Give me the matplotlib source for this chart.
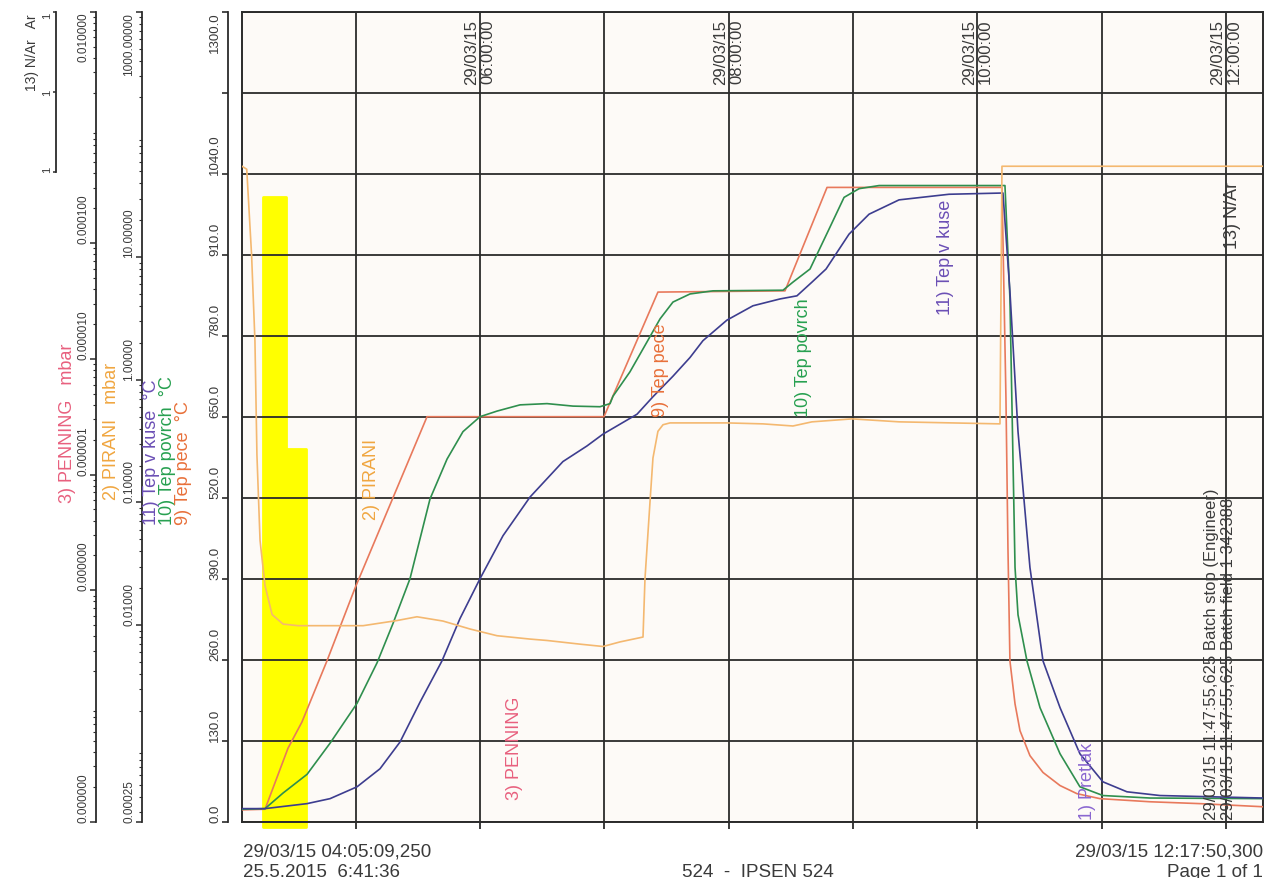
import numpy as np
import matplotlib
matplotlib.use("Agg")
import matplotlib.pyplot as plt
from matplotlib import transforms
from matplotlib.ticker import FixedLocator, NullFormatter, LogLocator

plt.rcParams['font.family'] = ['Liberation Sans', 'DejaVu Sans']

# ---------------- data ----------------
T_START = 4 + 5 / 60 + 9.25 / 3600      # 29/03/15 04:05:09,250 (hours)
T_END = 12 + 17 / 60 + 50.3 / 3600      # 29/03/15 12:17:50,300

hour_ticks = [5, 6, 7, 8, 9, 10, 11, 12]
hour_label_pos = [6, 8, 10, 12]
hour_labels = ['29/03/15\n06:00:00', '29/03/15\n08:00:00',
               '29/03/15\n10:00:00', '29/03/15\n12:00:00']

temp_ticks = [0, 130, 260, 390, 520, 650, 780, 910, 1040, 1170, 1300]
temp_labels = ['0.0', '130.0', '260.0', '390.0', '520.0', '650.0',
               '780.0', '910.0', '1040.0', '', '1300.0']
pirani_ticks = [0.00025, 0.01, 0.1, 1, 10, 1000]
pirani_labels = ['0.00025', '0.01000', '0.10000', '1.00000', '10.00000', '1000.00000']
penning_ticks = [1e-9, 1e-7, 1e-6, 1e-5, 1e-4, 1e-2]
penning_labels = ['0.000000', '0.000000', '0.000001', '0.000010', '0.000100', '0.010000']
nar_ticks = [0.95, 1.0, 1.05]
nar_labels = ['1', '1', '1']

# 9) Tep pece [degC]
pece_t = [4.086, 4.271, 4.456, 4.568, 4.769, 4.995, 5.574, 6.997, 7.431, 8.453,
          8.791, 10.198, 10.230, 10.246, 10.262, 10.303, 10.343, 10.423, 10.528,
          10.665, 10.801, 10.986, 11.388, 11.790, 12.297]
pece_v = [19, 20, 118, 160, 258, 375, 650, 650, 850, 852,
          1018, 1018, 680, 440, 258, 189, 146, 106, 79,
          58, 45, 37, 32, 29, 24]

# 10) Tep povrch [degC]
povrch_t = [4.086, 4.271, 4.416, 4.609, 4.794, 5.011, 5.172, 5.300, 5.437, 5.598,
            5.735, 5.863, 6.000, 6.137, 6.322, 6.539, 6.748, 6.965, 7.046, 7.070,
            7.206, 7.343, 7.448, 7.552, 7.689, 7.874, 8.437, 8.517, 8.654, 8.807,
            8.928, 9.049, 9.210, 10.222, 10.262, 10.303, 10.327, 10.399, 10.504,
            10.665, 10.825, 11.010, 11.388, 12.297]
povrch_v = [20, 21, 46, 76, 126, 190, 255, 318, 390, 518,
            582, 626, 650, 659, 669, 671, 667, 666, 671, 683,
            722, 770, 807, 834, 847, 852, 853, 866, 887, 951,
            1002, 1016, 1021, 1021, 840, 408, 332, 258, 183,
            109, 56, 42, 38, 37]

# 11) Tep v kuse [degC]
kuse_t = [4.086, 4.271, 4.609, 4.794, 5.011, 5.196, 5.357, 5.518, 5.694, 5.839,
          6.000, 6.185, 6.402, 6.667, 6.860, 6.989, 7.126, 7.263, 7.391, 7.552,
          7.689, 7.793, 7.986, 8.195, 8.413, 8.549, 8.670, 8.783, 8.968, 9.129,
          9.370, 9.772, 10.206, 10.262, 10.327, 10.423, 10.528, 10.665, 10.825,
          11.010, 11.203, 11.469, 12.297]
kuse_v = [21, 21, 29, 37, 56, 85, 128, 192, 258, 326,
          390, 459, 521, 578, 603, 622, 638, 654, 682, 715,
          745, 772, 805, 828, 839, 844, 866, 887, 943, 975,
          998, 1007, 1009, 851, 626, 408, 258, 183, 109,
          64, 48, 42, 38]

# 2) PIRANI [mbar]
pirani_t = [4.086, 4.124, 4.163, 4.190, 4.206, 4.231, 4.271, 4.328, 4.416, 4.537,
            4.794, 5.060, 5.332, 5.493, 5.702, 5.920, 6.137, 6.402, 6.539, 6.804,
            6.989, 7.126, 7.311, 7.327, 7.367, 7.391, 7.431, 7.472, 7.528, 7.986,
            8.276, 8.517, 8.670, 8.992, 9.370, 10.182, 10.198, 12.297]
pirani_p = [55, 52, 10.4, 2.07, 0.244, 0.049, 0.021, 0.0122, 0.0102, 0.0099,
            0.0099, 0.0099, 0.0109, 0.0117, 0.0108, 0.0093, 0.0082, 0.0077, 0.0075, 0.0070,
            0.0067, 0.0073, 0.0080, 0.024, 0.10, 0.23, 0.38, 0.43, 0.445, 0.445,
            0.437, 0.42, 0.454, 0.48, 0.454, 0.437, 55, 55]

# yellow highlighted intervals (start hour, duration hours, level)
alarm_start = [4.255, 4.448]
alarm_width = [0.185, 0.153]
alarm_level = [1003, 598]

# ---------------- style ----------------
GRID = '#2b2b2b'
TXT = '#3a3a3a'
BG = '#fdfaf7'
C_PECE, C_PECE_T = '#e8795c', '#e8703a'
C_POV, C_POV_T = '#2f8f4e', '#27a050'
C_KUSE, C_KUSE_T = '#3d3d8f', '#6b4fb5'
C_PIR, C_PIR_T = '#f4b870', '#f0a640'
C_PEN_T = '#e8607e'
C_PRE_T = '#8a66d0'

W_PX, H_PX = 1280, 879
PL, PR, PT, PB = 242, 1263, 12.7, 822.7


def fx(px):
    return px / W_PX


def fy(py):
    return 1 - py / H_PX


rect = [fx(PL), fy(PB), (PR - PL) / W_PX, (PB - PT) / H_PX]

fig = plt.figure(figsize=(12.8, 8.79), dpi=100)
fig.patch.set_facecolor('white')

# main plot area
ax = fig.add_axes(rect)
ax.set_xlim(T_START, T_END)
ax.set_ylim(0, 1300)
ax.set_facecolor(BG)
ax.set_xticks(hour_ticks)
ax.set_yticks(temp_ticks)
ax.grid(True, color=GRID, lw=1.3)
ax.set_axisbelow(True)
ax.tick_params(axis='x', direction='out', length=5, width=1.3, color=GRID,
               labelbottom=False)
ax.tick_params(axis='y', left=False, labelleft=False)
for s in ax.spines.values():
    s.set_color(GRID)
    s.set_linewidth(1.4)

# yellow bars
bar_base = -8
ax.bar(alarm_start, np.array(alarm_level) - bar_base, width=alarm_width,
       bottom=bar_base, align='edge', color='#ffff00', edgecolor='#ffff00',
       lw=2, joinstyle='round', zorder=0.3, clip_on=False)

ax.plot(pece_t, pece_v, color=C_PECE, lw=1.2, zorder=3)
ax.plot(povrch_t, povrch_v, color=C_POV, lw=1.2, zorder=3)
ax.plot(kuse_t, kuse_v, color=C_KUSE, lw=1.2, zorder=3)

# time labels at top
bt = transforms.blended_transform_factory(ax.transData, ax.transAxes)
for h, lab in zip(hour_label_pos, hour_labels):
    ax.text(h, 1 - 7 / (PB - PT), lab, transform=bt, rotation=90, ha='center',
            va='top', multialignment='right', fontsize=12, color=TXT,
            linespacing=1.1)

# in-plot series labels (x in hours, y bottom in degC)
SER = 13
ax.text(5.131, 486, '2) PIRANI', rotation=90, ha='center', va='bottom',
        color=C_PIR_T, fontsize=SER, zorder=4)
ax.text(6.281, 37, '3) PENNING', rotation=90, ha='center', va='bottom',
        color=C_PEN_T, fontsize=SER, zorder=4)
ax.text(7.448, 651, '9) Tep pece', rotation=90, ha='center', va='bottom',
        color=C_PECE_T, fontsize=SER, zorder=4)
ax.text(8.598, 651, '10) Tep povrch', rotation=90, ha='center', va='bottom',
        color=C_POV_T, fontsize=SER, zorder=4)
ax.text(9.740, 815, '11) Tep v kuse', rotation=90, ha='center', va='bottom',
        color=C_KUSE_T, fontsize=SER, zorder=4)
ax.text(12.056, 920, '13) N/Ar', rotation=90, ha='center', va='bottom',
        color=TXT, fontsize=SER, zorder=4)
ax.text(10.882, 5, '1) Pretlak', rotation=90, ha='center', va='bottom',
        color=C_PRE_T, fontsize=SER, zorder=4)
ax.text(11.887, 4, '29/03/15 11:47:55,625 Batch stop (Engineer)', rotation=90,
        ha='center', va='bottom', color=TXT, fontsize=12, zorder=4)
ax.text(12.022, 4, '29/03/15 11:47:55,625 Batch field 1 342388', rotation=90,
        ha='center', va='bottom', color=TXT, fontsize=12, zorder=4)


def side_axis(rect_, offset_px, ylim, scale='linear'):
    a = fig.add_axes(rect_)
    a.patch.set_visible(False)
    for k in ('top', 'right', 'bottom'):
        a.spines[k].set_visible(False)
    a.spines['left'].set_position(('axes', (offset_px - PL) / (PR - PL)))
    a.spines['left'].set_color(GRID)
    a.spines['left'].set_linewidth(1.3)
    a.set_yscale(scale)
    a.set_ylim(*ylim)
    a.set_xticks([])
    a.set_xlim(0, 1)
    return a


def rot_labels(a, ticks, labels, size, mid_center=False):
    a.yaxis.set_major_locator(FixedLocator(ticks))
    a.set_yticklabels(labels)
    tk = a.yaxis.get_major_ticks()
    for t in tk:
        t.label1.set_rotation(90)
        t.label1.set_fontsize(size)
        t.label1.set_color(TXT)
        t.label1.set_ha('right')
        t.label1.set_va('bottom')
    if mid_center:
        for t in tk[1:-1]:
            t.label1.set_va('center')
    tk[-1].label1.set_va('top')


# temperature axis
axT = side_axis(rect, 228, (0, 1300))
axT.tick_params(axis='y', direction='out', length=4, width=1.2, color=GRID, pad=1)
rot_labels(axT, temp_ticks, temp_labels, 9.5)

# PIRANI axis (log)
axP = side_axis(rect, 142, (0.00025, 1000), 'log')
axP.yaxis.set_minor_locator(LogLocator(base=10, subs=np.arange(2, 10), numticks=50))
axP.yaxis.set_minor_formatter(NullFormatter())
axP.tick_params(axis='y', which='major', direction='out', length=4, width=1.1,
                color=GRID, pad=1)
axP.tick_params(axis='y', which='minor', direction='out', length=2.5, width=0.8,
                color=GRID)
rot_labels(axP, pirani_ticks, pirani_labels, 8.5)
axP.plot(pirani_t, pirani_p, color=C_PIR, lw=1.2, zorder=2)
axP.set_xlim(T_START, T_END)

# PENNING axis (log)
axN = side_axis(rect, 96, (1e-9, 1e-2), 'log')
axN.yaxis.set_minor_locator(LogLocator(base=10, subs=np.arange(2, 10), numticks=50))
axN.yaxis.set_minor_formatter(NullFormatter())
axN.tick_params(axis='y', which='major', direction='out', length=4, width=1.1,
                color=GRID, pad=1)
axN.tick_params(axis='y', which='minor', direction='out', length=2.5, width=0.8,
                color=GRID)
rot_labels(axN, penning_ticks, penning_labels, 8.5)

# N/Ar axis (short)
rectA = [fx(PL), fy(173), (PR - PL) / W_PX, (173 - PT) / H_PX]
axA = side_axis(rectA, 56, (0.95, 1.05))
axA.tick_params(axis='y', direction='out', length=2, width=1.1, color=GRID, pad=0.5)
rot_labels(axA, nar_ticks, nar_labels, 8, mid_center=True)

# series titles on the left
fig.text(fx(32), fy(14), '13) N/Ar   Ar', rotation=90, ha='center', va='top',
         color=TXT, fontsize=10)
fig.text(fx(68), fy(503), '3) PENNING   mbar', rotation=90, ha='center',
         va='bottom', color=C_PEN_T, fontsize=SER)
fig.text(fx(112), fy(500), '2) PIRANI   mbar', rotation=90, ha='center',
         va='bottom', color=C_PIR_T, fontsize=SER)
fig.text(fx(152), fy(525), '11) Tep v kuse  °C', rotation=90, ha='center',
         va='bottom', color=C_KUSE_T, fontsize=SER)
fig.text(fx(168), fy(525), '10) Tep povrch  °C', rotation=90, ha='center',
         va='bottom', color=C_POV_T, fontsize=SER)
fig.text(fx(184), fy(525), '9) Tep pece  °C', rotation=90, ha='center',
         va='bottom', color=C_PECE_T, fontsize=SER)

# footer
FS = 13.5
fig.text(fx(243), fy(857), '29/03/15 04:05:09,250', ha='left', va='baseline',
         fontsize=FS, color=TXT)
fig.text(fx(243), fy(877), '25.5.2015  6:41:36', ha='left', va='baseline',
         fontsize=FS, color=TXT)
fig.text(fx(758), fy(877), '524  -  IPSEN 524', ha='center', va='baseline',
         fontsize=FS, color=TXT)
fig.text(fx(1263), fy(857), '29/03/15 12:17:50,300', ha='right', va='baseline',
         fontsize=FS, color=TXT)
fig.text(fx(1263), fy(877), 'Page 1 of 1', ha='right', va='baseline',
         fontsize=FS, color=TXT)

fig.savefig('out.png', dpi=100, facecolor='white')
